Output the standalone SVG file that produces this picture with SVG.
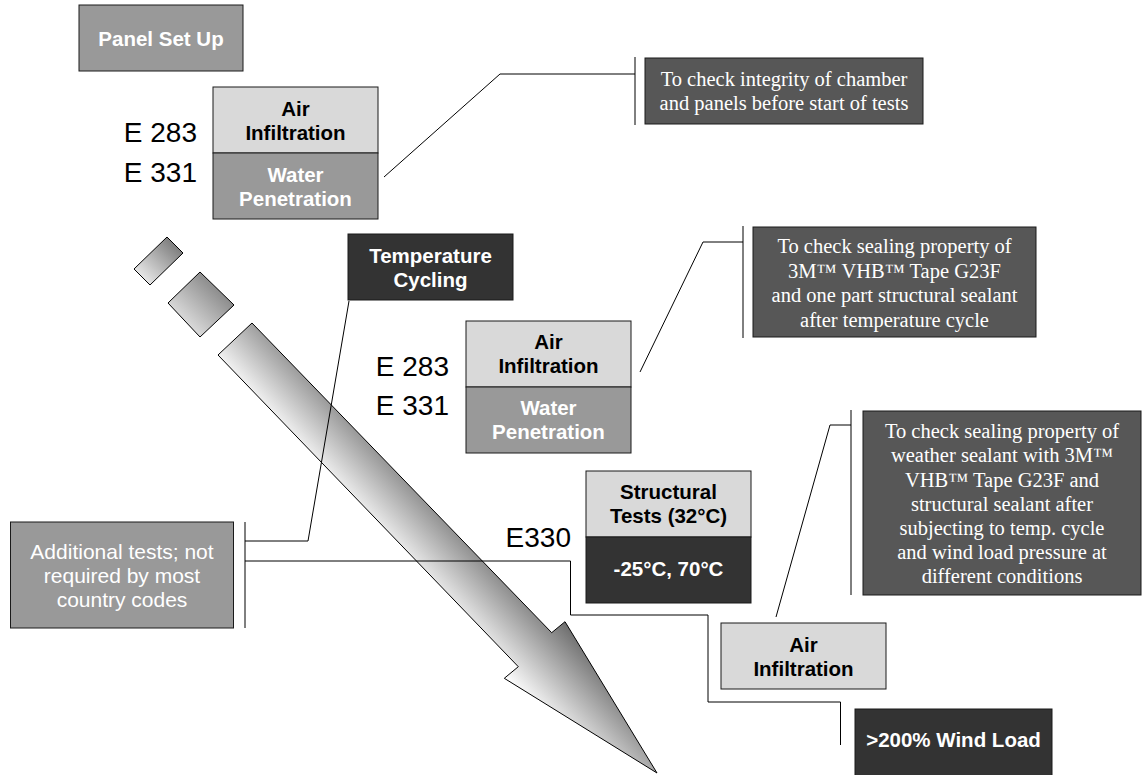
<svg xmlns="http://www.w3.org/2000/svg" width="1146" height="775" viewBox="0 0 1146 775">
<defs>
<linearGradient id="arrowGrad" gradientUnits="userSpaceOnUse" x1="504" y1="678" x2="565" y2="622">
<stop offset="0" stop-color="#ffffff"/>
<stop offset="1" stop-color="#6e6e6e"/>
</linearGradient>
<linearGradient id="sqGrad" x1="0" y1="1" x2="1" y2="0">
<stop offset="0" stop-color="#ffffff"/>
<stop offset="1" stop-color="#666666"/>
</linearGradient>
</defs>
<style>
.box{stroke:#1a1a1a;stroke-width:1}
.light{fill:#d9d9d9}
.mid{fill:#999999}
.dark{fill:#333333}
.note{fill:#575757;stroke:#1a1a1a;stroke-width:1}
.lbl{font-family:"Liberation Sans",Arial,sans-serif;font-weight:bold;font-size:20.5px;text-anchor:middle}
.blk{fill:#000}
.wht{fill:#fff}
.code{font-family:"Liberation Sans",Arial,sans-serif;font-size:28px;fill:#000;text-anchor:end}
.ntxt{font-family:"Liberation Serif","Times New Roman",serif;font-size:20.5px;fill:#fff;text-anchor:middle}
.add{font-family:"Liberation Sans",Arial,sans-serif;font-size:21px;fill:#fff;text-anchor:middle}
.conn{fill:none;stroke:#000;stroke-width:1}
</style>
<rect width="1146" height="775" fill="#fff"/>

<g id="flow-arrow">
<polygon points="167,237 183,253 150,285 134,269" fill="url(#sqGrad)" stroke="#000" stroke-width="1"/>
<polygon points="200,272 234,305 200,337 168,303" fill="url(#sqGrad)" stroke="#000" stroke-width="1"/>
<polygon points="252,323 551.7,632.7 565,621.7 657,773 504.3,678.3 518.3,666.7 218,355" fill="url(#arrowGrad)" stroke="#000" stroke-width="1"/>
</g>

<g id="connectors">
<polyline class="conn" points="384,177 500,74 635,74"/>
<line class="conn" x1="635" y1="57" x2="635" y2="125"/>
<polyline class="conn" points="640,372 703,242 743,242"/>
<line class="conn" x1="743" y1="226" x2="743" y2="338"/>
<polyline class="conn" points="776,617 830,425 851,425"/>
<line class="conn" x1="851" y1="410" x2="851" y2="595"/>
<line class="conn" x1="245" y1="522" x2="245" y2="628"/>
<polyline class="conn" points="245,541 308,541 349,301"/>
<polyline class="conn" points="245,561 570.5,561 570.5,615 708,615 708,702 840.5,702 840.5,745"/>
</g>

<g id="panel-set-up">
<rect class="box mid" x="79" y="5" width="164" height="66"/>
<text class="lbl wht" x="161" y="46">Panel Set Up</text>
</g>

<g id="test-1">
<rect class="box light" x="213" y="87" width="165" height="66"/>
<rect class="box mid" x="213" y="153" width="165" height="66"/>
<text class="lbl blk" x="295.5" y="116">Air</text>
<text class="lbl blk" x="295.5" y="140">Infiltration</text>
<text class="lbl wht" x="295.5" y="182">Water</text>
<text class="lbl wht" x="295.5" y="206">Penetration</text>
<text class="code" x="197" y="142">E 283</text>
<text class="code" x="197" y="182">E 331</text>
</g>

<g id="temperature-cycling">
<rect class="box dark" x="348" y="234" width="165" height="66"/>
<text class="lbl wht" x="430.5" y="263">Temperature</text>
<text class="lbl wht" x="430.5" y="287">Cycling</text>
</g>

<g id="test-2">
<rect class="box light" x="466" y="321" width="165" height="66"/>
<rect class="box mid" x="466" y="387" width="165" height="66"/>
<text class="lbl blk" x="548.5" y="349">Air</text>
<text class="lbl blk" x="548.5" y="373">Infiltration</text>
<text class="lbl wht" x="548.5" y="415">Water</text>
<text class="lbl wht" x="548.5" y="439">Penetration</text>
<text class="code" x="449" y="376">E 283</text>
<text class="code" x="449" y="415">E 331</text>
</g>

<g id="structural-tests">
<rect class="box light" x="586" y="471" width="165" height="66"/>
<rect class="box dark" x="586" y="537" width="165" height="66"/>
<text class="lbl blk" x="668.5" y="499">Structural</text>
<text class="lbl blk" x="668.5" y="523">Tests (32°C)</text>
<text class="lbl wht" x="668.5" y="576">-25°C, 70°C</text>
<text class="code" x="571" y="547">E330</text>
</g>

<g id="test-3">
<rect class="box light" x="721" y="623" width="165" height="66"/>
<text class="lbl blk" x="803.5" y="652">Air</text>
<text class="lbl blk" x="803.5" y="676">Infiltration</text>
</g>

<g id="wind-load">
<rect class="box dark" x="855" y="709" width="197" height="67"/>
<text class="lbl wht" x="953.5" y="747">&gt;200% Wind Load</text>
</g>

<g id="additional-tests">
<rect class="box mid" x="10.5" y="522" width="223" height="106"/>
<text class="add" x="122" y="559">Additional tests; not</text>
<text class="add" x="122" y="583">required by most</text>
<text class="add" x="122" y="607">country codes</text>
</g>

<g id="note-1">
<rect class="note" x="645" y="58" width="278" height="66"/>
<text class="ntxt" x="784" y="86">To check integrity of chamber</text>
<text class="ntxt" x="784" y="110">and panels before start of tests</text>
</g>

<g id="note-2">
<rect class="note" x="753" y="227" width="283" height="110"/>
<text class="ntxt" x="894.5" y="253">To check sealing property of</text>
<text class="ntxt" x="894.5" y="277.5">3M™ VHB™ Tape G23F</text>
<text class="ntxt" x="894.5" y="302">and one part structural sealant</text>
<text class="ntxt" x="894.5" y="326.5">after temperature cycle</text>
</g>

<g id="note-3">
<rect class="note" x="863" y="411" width="278" height="184"/>
<text class="ntxt" x="1002" y="438">To check sealing property of</text>
<text class="ntxt" x="1002" y="462">weather sealant with 3M™</text>
<text class="ntxt" x="1002" y="486.5">VHB™ Tape G23F and</text>
<text class="ntxt" x="1002" y="511">structural sealant after</text>
<text class="ntxt" x="1002" y="535">subjecting to temp. cycle</text>
<text class="ntxt" x="1002" y="559">and wind load pressure at</text>
<text class="ntxt" x="1002" y="583">different conditions</text>
</g>
</svg>
